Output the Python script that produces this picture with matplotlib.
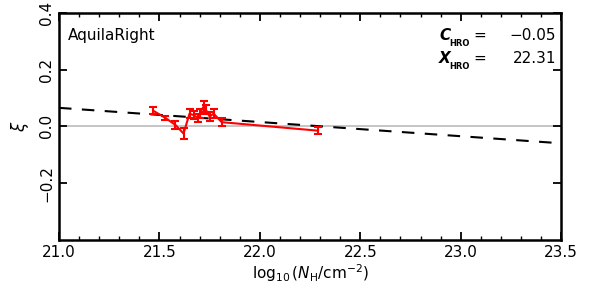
import numpy as np
import matplotlib
matplotlib.use('Agg')
import matplotlib.pyplot as plt
from matplotlib.ticker import MultipleLocator

# HRO data for AquilaRight
log_nh = [21.47, 21.53, 21.58, 21.62, 21.65, 21.67, 21.69, 21.70, 21.72, 21.73, 21.75, 21.77, 21.81, 22.29]
xi = [0.055, 0.030, 0.005, -0.025, 0.045, 0.040, 0.030, 0.045, 0.070, 0.060, 0.035, 0.045, 0.015, -0.015]
xi_err = [0.012, 0.008, 0.015, 0.018, 0.015, 0.015, 0.015, 0.015, 0.020, 0.015, 0.015, 0.015, 0.015, 0.012]

# linear fit parameters
c_hro = -0.05
x_hro = 22.31

plt.rcParams['font.family'] = 'DejaVu Sans'
plt.rcParams['mathtext.fontset'] = 'dejavusans'

fig = plt.figure(figsize=(5.9, 2.94), dpi=100)
ax = fig.add_axes([0.1, 0.184, 0.851, 0.772])

# zero line and fit
ax.axhline(0.0, color='#bbbbbb', lw=1.2, zorder=1)
xfit = np.array([21.0, 23.5])
ax.plot(xfit, c_hro * (xfit - x_hro), color='black', lw=1.5, ls=(0, (6, 5)), zorder=2)

# data
ax.errorbar(log_nh, xi, yerr=xi_err, color='red', lw=1.5, elinewidth=1.5,
            capsize=3, capthick=1.5, zorder=3)

ax.set_xlim(21.0, 23.5)
ax.set_ylim(-0.4, 0.4)
ax.xaxis.set_major_locator(MultipleLocator(0.5))
ax.xaxis.set_minor_locator(MultipleLocator(0.1))
ax.set_yticks([-0.2, 0.0, 0.2, 0.4])
ax.set_yticklabels(['\u22120.2', '0.0', '0.2', '0.4'], rotation=90, va='center')
ax.tick_params(which='both', direction='in', top=True, right=True, labelsize=11)
ax.tick_params(which='major', length=6, width=1.3)
ax.tick_params(which='minor', length=3, width=1)
for s in ax.spines.values():
    s.set_linewidth(1.8)

ax.set_xlabel(r'$\log_{10}(N_{\rm H}/{\rm cm}^{-2})$', fontsize=11, labelpad=2)
ax.set_ylabel(r'$\xi$', fontsize=12, labelpad=6)

ax.text(0.018, 0.88, 'AquilaRight', transform=ax.transAxes, fontsize=11)
for yy, sym, val in [(0.88, 'C', f'{c_hro:.2f}'.replace('-', '\u2212')),
                     (0.78, 'X', f'{x_hro:.2f}')]:
    ax.text(0.757, yy, sym, transform=ax.transAxes, fontsize=11,
            fontstyle='italic', fontweight='bold')
    ax.text(0.777, yy - 0.025, 'HRO', transform=ax.transAxes, fontsize=6,
            fontweight='bold')
    ax.text(0.825, yy, '=', transform=ax.transAxes, fontsize=11)
    ax.text(0.99, yy, val, transform=ax.transAxes, fontsize=11, ha='right')

fig.savefig('out.png', dpi=100)
